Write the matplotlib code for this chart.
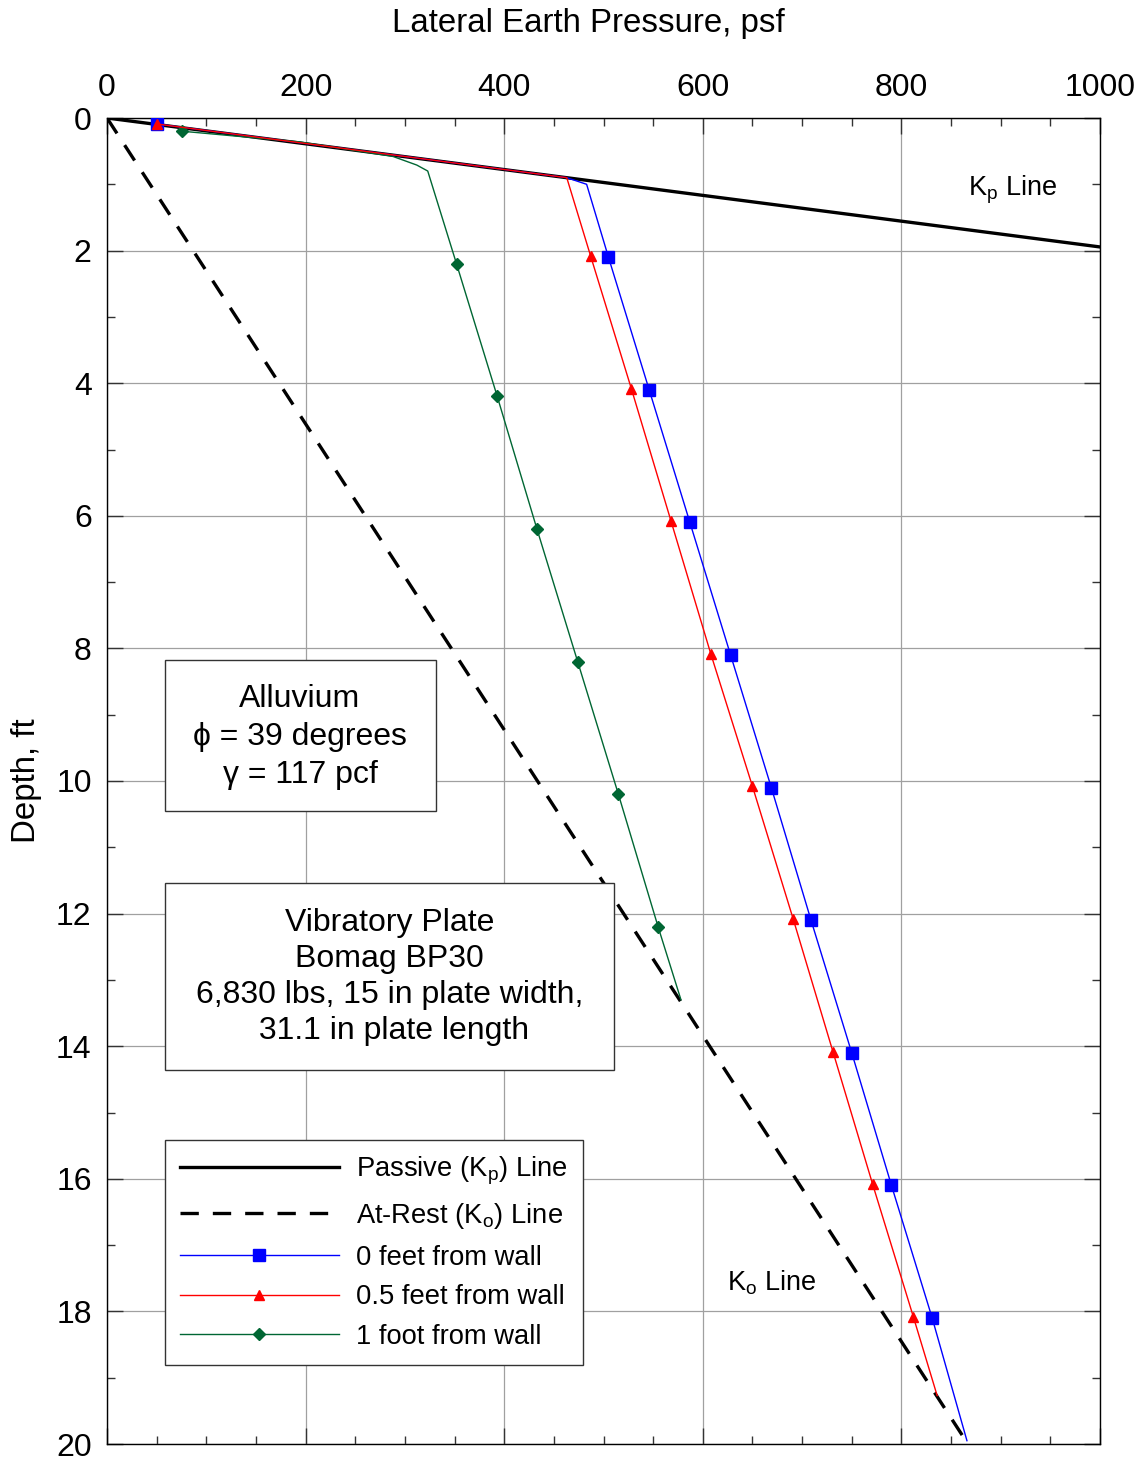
import matplotlib
matplotlib.use("Agg")
import matplotlib.pyplot as plt
from matplotlib.patches import Rectangle
from matplotlib.ticker import MultipleLocator

# reference lines (pressure psf, depth ft)
kp_pressure = [0, 1000]
kp_depth = [0, 1.945]
ko_pressure = [0, 867]
ko_depth = [0, 20]

# measured curves
blue_pressure = [50, 463, 483, 505, 546, 587, 628, 669, 709, 750, 790, 831, 866]
blue_depth = [0.09, 0.9, 1.0, 2.1, 4.1, 6.1, 8.1, 10.1, 12.1, 14.1, 16.1, 18.1, 19.95]
blue_marks = [0, 3, 4, 5, 6, 7, 8, 9, 10, 11]

red_pressure = [50, 463, 487, 528, 568, 608, 650, 691, 731, 771, 812, 836]
red_depth = [0.09, 0.9, 2.08, 4.08, 6.08, 8.08, 10.08, 12.08, 14.08, 16.08, 18.08, 19.27]
red_marks = [0, 2, 3, 4, 5, 6, 7, 8, 9, 10]

green_pressure = [76, 194, 288, 312, 323, 352, 393, 433, 474, 515, 555, 578]
green_depth = [0.2, 0.36, 0.58, 0.71, 0.8, 2.2, 4.2, 6.2, 8.2, 10.2, 12.2, 13.3]
green_marks = [0, 5, 6, 7, 8, 9, 10]

FONT = ["Liberation Sans", "DejaVu Sans"]
plt.rcParams["font.family"] = FONT
plt.rcParams["mathtext.fontset"] = "custom"
plt.rcParams["mathtext.rm"] = "Liberation Sans"
plt.rcParams["mathtext.it"] = "Liberation Sans:italic"

fig = plt.figure(figsize=(11.47, 14.61), dpi=100)
ax = fig.add_axes([107 / 1147, 1 - 1444 / 1461, 993 / 1147, 1326 / 1461])

ax.plot(kp_pressure, kp_depth, color="black", lw=2.4, label="Passive (K$_\\mathrm{p}$) Line", zorder=3)
ax.plot(ko_pressure, ko_depth, color="black", lw=2.4, dashes=(5.5, 4.2),
        label="At-Rest (K$_\\mathrm{o}$) Line", zorder=3)
ax.plot(blue_pressure, blue_depth, color="#0000ff", lw=1.0, marker="s", ms=8.5,
        markevery=blue_marks, label="0 feet from wall", zorder=4)
ax.plot(red_pressure, red_depth, color="#ff0000", lw=1.0, marker="^", ms=7,
        markevery=red_marks, label="0.5 feet from wall", zorder=5)
ax.plot(green_pressure, green_depth, color="#006633", lw=1.0, marker="D", ms=6,
        markevery=green_marks, label="1 foot from wall", zorder=4)

ax.set_xlim(0, 1000)
ax.set_ylim(20, 0)
ax.xaxis.set_major_locator(MultipleLocator(200))
ax.xaxis.set_minor_locator(MultipleLocator(50))
ax.yaxis.set_major_locator(MultipleLocator(2))
ax.yaxis.set_minor_locator(MultipleLocator(1))
ax.xaxis.tick_top()
ax.xaxis.set_label_position("top")
ax.tick_params(which="both", direction="in", top=True, bottom=True, left=True, right=True,
               labeltop=True, labelbottom=False, labelleft=True, labelright=False,
               labelsize=23, color="#333333")
ax.tick_params(which="major", length=11.5, width=1.0, pad=11)
ax.tick_params(which="minor", length=5.8, width=1.0)
ax.grid(True, which="major", color="#a0a0a0", lw=0.9)
ax.set_axisbelow(True)
for s in ax.spines.values():
    s.set_linewidth(1.0)

ax.set_xlabel("Lateral Earth Pressure, psf", fontsize=23.8, labelpad=29, x=0.485)
ax.set_ylabel("Depth, ft", fontsize=23.8, labelpad=10)

ax.text(0.867, 1 - (190 - 118) / 1326, "K$_\\mathrm{p}$ Line", transform=ax.transAxes,
        fontsize=19.5, ha="left", va="center")
ax.text(0.624, 1 - (1283 - 118) / 1326, "K$_\\mathrm{o}$ Line", transform=ax.transAxes,
        fontsize=19.5, ha="left", va="center")

# info boxes
ax.add_patch(Rectangle((0.0584, 0.4775), 0.2726, 0.1135, transform=ax.transAxes,
                       facecolor="white", edgecolor="#333333", lw=1.0, zorder=6))
ax.text(0.1944, 1 - (737 - 118) / 1326, "Alluvium\n\u03d5 = 39 degrees\n\u03b3 = 117 pcf",
        transform=ax.transAxes, fontsize=23, ha="center", va="center",
        linespacing=1.33, zorder=7)

ax.add_patch(Rectangle((0.0584, 0.282), 0.4522, 0.141, transform=ax.transAxes,
                       facecolor="white", edgecolor="#333333", lw=1.0, zorder=6))
ax.text(0.2845, 1 - (977 - 118) / 1326,
        "Vibratory Plate\nBomag BP30\n6,830 lbs, 15 in plate width,\n 31.1 in plate length",
        transform=ax.transAxes, fontsize=23, ha="center", va="center",
        linespacing=1.26, zorder=7)

leg = ax.legend(loc="upper left", bbox_to_anchor=(0.0584, 0.2294), fontsize=19.7,
                frameon=True, fancybox=False, edgecolor="#333333", framealpha=1,
                numpoints=1, handlelength=5.8, handletextpad=0.62, labelspacing=0.5,
                borderpad=0.55, borderaxespad=0)
leg.get_frame().set_linewidth(1.0)
leg.set_zorder(8)

fig.savefig("out.png", dpi=100)
